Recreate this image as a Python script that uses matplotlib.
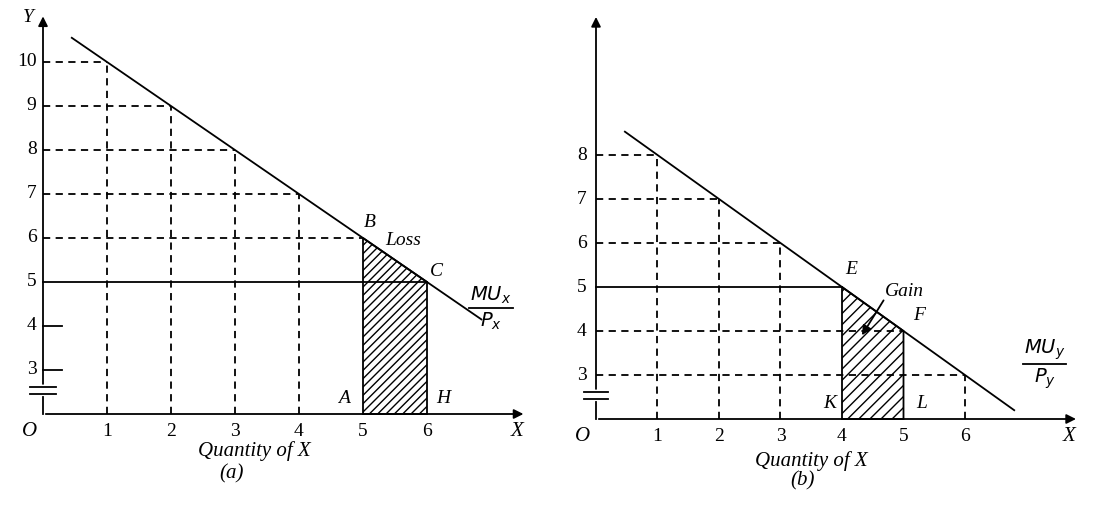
import matplotlib
matplotlib.use("Agg")
import matplotlib.pyplot as plt
from matplotlib.patches import Polygon

plt.rcParams['font.family'] = ['Liberation Serif', 'DejaVu Serif']

# Panel (a) data
a_xticks = [1, 2, 3, 4, 5, 6]
a_yticks = [3, 4, 5, 6, 7, 8, 9, 10]
a_curve_x = [0.45, 6.85]
a_curve_y = [10.55, 4.15]        # MUx/Px : y = 11 - x
a_dash_pts_x = [1, 2, 3, 4]
a_dash_pts_y = [10, 9, 8, 7]
a_price = 5
a_loss_x = [5, 5, 6, 6]
a_loss_y = [2, 6, 5, 2]

# Panel (b) data
b_xticks = [1, 2, 3, 4, 5, 6]
b_yticks = [3, 4, 5, 6, 7, 8]
b_curve_x = [0.47, 6.8]
b_curve_y = [8.53, 2.2]          # MUy/Py : y = 9 - x
b_dash_pts_x = [1, 2, 3]
b_dash_pts_y = [8, 7, 6]
b_price = 5
b_gain_x = [4, 4, 5, 5]
b_gain_y = [2, 5, 4, 2]

W, H = 1104, 505
fig = plt.figure(figsize=(W/100, H/100), dpi=100)

def px_axes(x0px, ux, y_top_val, y_top_px, uy, xlim, ylim):
    left = x0px + xlim[0]*ux
    right = x0px + xlim[1]*ux
    top = y_top_px - (ylim[1]-y_top_val)*uy
    bot = y_top_px + (y_top_val-ylim[0])*uy
    ax = fig.add_axes([left/W, 1-bot/H, (right-left)/W, (bot-top)/H])
    ax.set_xlim(*xlim); ax.set_ylim(*ylim); ax.axis('off')
    return ax

def axes_frame(ax, xmax, ymax, ylabel=None):
    ax.annotate('', xy=(0, ymax), xytext=(0, 2.62),
                arrowprops=dict(arrowstyle='-|>', color='k', lw=1.3, mutation_scale=14))
    ax.plot([0, 0], [2.0, 2.38], color='k', lw=1.3)
    ax.plot([-0.2, 0.2], [2.62, 2.62], color='k', lw=1.3)
    ax.plot([-0.2, 0.2], [2.45, 2.45], color='k', lw=1.3)
    ax.annotate('', xy=(xmax, 2), xytext=(0, 2),
                arrowprops=dict(arrowstyle='-|>', color='k', lw=1.3, mutation_scale=14))
    ax.text(-0.1, 1.6, 'O', fontsize=15, fontstyle='italic', ha='right', va='center')
    ax.text(xmax-0.15, 1.6, 'X', fontsize=15, fontstyle='italic', ha='center', va='center')
    if ylabel:
        ax.text(-0.15, ymax-0.1, ylabel, fontsize=14, fontstyle='italic', ha='right', va='center')

dash = dict(color='k', lw=1.3, ls=(0, (4, 3)))
solid = dict(color='k', lw=1.3)

# ---------- Panel (a)
ax = px_axes(43, 64, 10, 62, 44, (-0.6, 7.6), (0.9, 11.3))
axes_frame(ax, 7.55, 11.1, 'Y')
ax.plot(a_curve_x, a_curve_y, **solid)
for xv, yv in zip(a_dash_pts_x, a_dash_pts_y):
    ax.plot([xv, xv], [2, yv], **dash)
    ax.plot([0, xv], [yv, yv], **dash)
ax.plot([0, 5], [6, 6], **dash)
ax.plot([0, 6], [a_price, a_price], **solid)
ax.add_patch(Polygon(list(zip(a_loss_x, a_loss_y)), closed=True, fill=False,
                     hatch='////', lw=1.3, edgecolor='k'))
for t in a_xticks:
    ax.text(t, 1.6, str(t), fontsize=14, ha='center', va='center')
for t in a_yticks:
    ax.text(-0.1, t, str(t), fontsize=14, ha='right', va='center')
for t in [3, 4]:
    ax.plot([0, 0.3], [t, t], **solid)
ax.text(5.1, 6.25, 'B', fontsize=14, fontstyle='italic', ha='center')
ax.text(5.35, 5.85, 'Loss', fontsize=14, fontstyle='italic')
ax.text(6.15, 5.05, 'C', fontsize=14, fontstyle='italic', ha='center', va='bottom')
ax.text(4.7, 2.25, 'A', fontsize=14, fontstyle='italic', ha='center')
ax.text(6.25, 2.25, 'H', fontsize=14, fontstyle='italic', ha='center')
ax.text(7.0, 4.45, r'$\mathit{MU_x}$', fontsize=14, ha='center', va='bottom')
ax.plot([6.65, 7.35], [4.4, 4.4], **solid)
ax.text(7.0, 4.35, r'$\mathit{P_x}$', fontsize=14, ha='center', va='top')
ax.text(3.3, 1.15, 'Quantity of X', fontsize=15, fontstyle='italic', ha='center', va='center')
ax.text(2.95, 0.65, '(a)', fontsize=15, fontstyle='italic', ha='center', va='center')

# ---------- Panel (b)
ax = px_axes(596, 61.5, 8, 155, 44, (-0.6, 8.2), (0.8, 11.3))
axes_frame(ax, 7.85, 11.2)
ax.plot(b_curve_x, b_curve_y, **solid)
for xv, yv in zip(b_dash_pts_x, b_dash_pts_y):
    ax.plot([xv, xv], [2, yv], **dash)
    ax.plot([0, xv], [yv, yv], **dash)
ax.plot([0, 4], [b_price, b_price], **solid)
ax.plot([0, 5], [4, 4], **dash)
ax.plot([0, 6], [3, 3], **dash)
ax.plot([6, 6], [2, 3], **dash)
ax.add_patch(Polygon(list(zip(b_gain_x, b_gain_y)), closed=True, fill=False,
                     hatch='///', lw=1.3, edgecolor='k'))
for t in b_xticks:
    ax.text(t, 1.6, str(t), fontsize=14, ha='center', va='center')
for t in b_yticks:
    ax.text(-0.15, t, str(t), fontsize=14, ha='right', va='center')
ax.text(4.15, 5.2, 'E', fontsize=14, fontstyle='italic', ha='center', va='bottom')
ax.text(5.25, 4.15, 'F', fontsize=14, fontstyle='italic', ha='center', va='bottom')
ax.text(3.8, 2.25, 'K', fontsize=14, fontstyle='italic', ha='center')
ax.text(5.3, 2.25, 'L', fontsize=14, fontstyle='italic', ha='center')
ax.text(4.7, 4.8, 'Gain', fontsize=14, fontstyle='italic')
ax.annotate('', xy=(4.3, 3.85), xytext=(4.7, 4.75),
            arrowprops=dict(arrowstyle='-|>', color='k', lw=1.3, mutation_scale=14))
ax.text(7.3, 3.3, r'$\mathit{MU_y}$', fontsize=14, ha='center', va='bottom')
ax.plot([6.95, 7.65], [3.25, 3.25], **solid)
ax.text(7.3, 3.2, r'$\mathit{P_y}$', fontsize=14, ha='center', va='top')
ax.text(3.5, 1.05, 'Quantity of X', fontsize=15, fontstyle='italic', ha='center', va='center')
ax.text(3.35, 0.6, '(b)', fontsize=15, fontstyle='italic', ha='center', va='center')

fig.savefig('out.png', dpi=100)
